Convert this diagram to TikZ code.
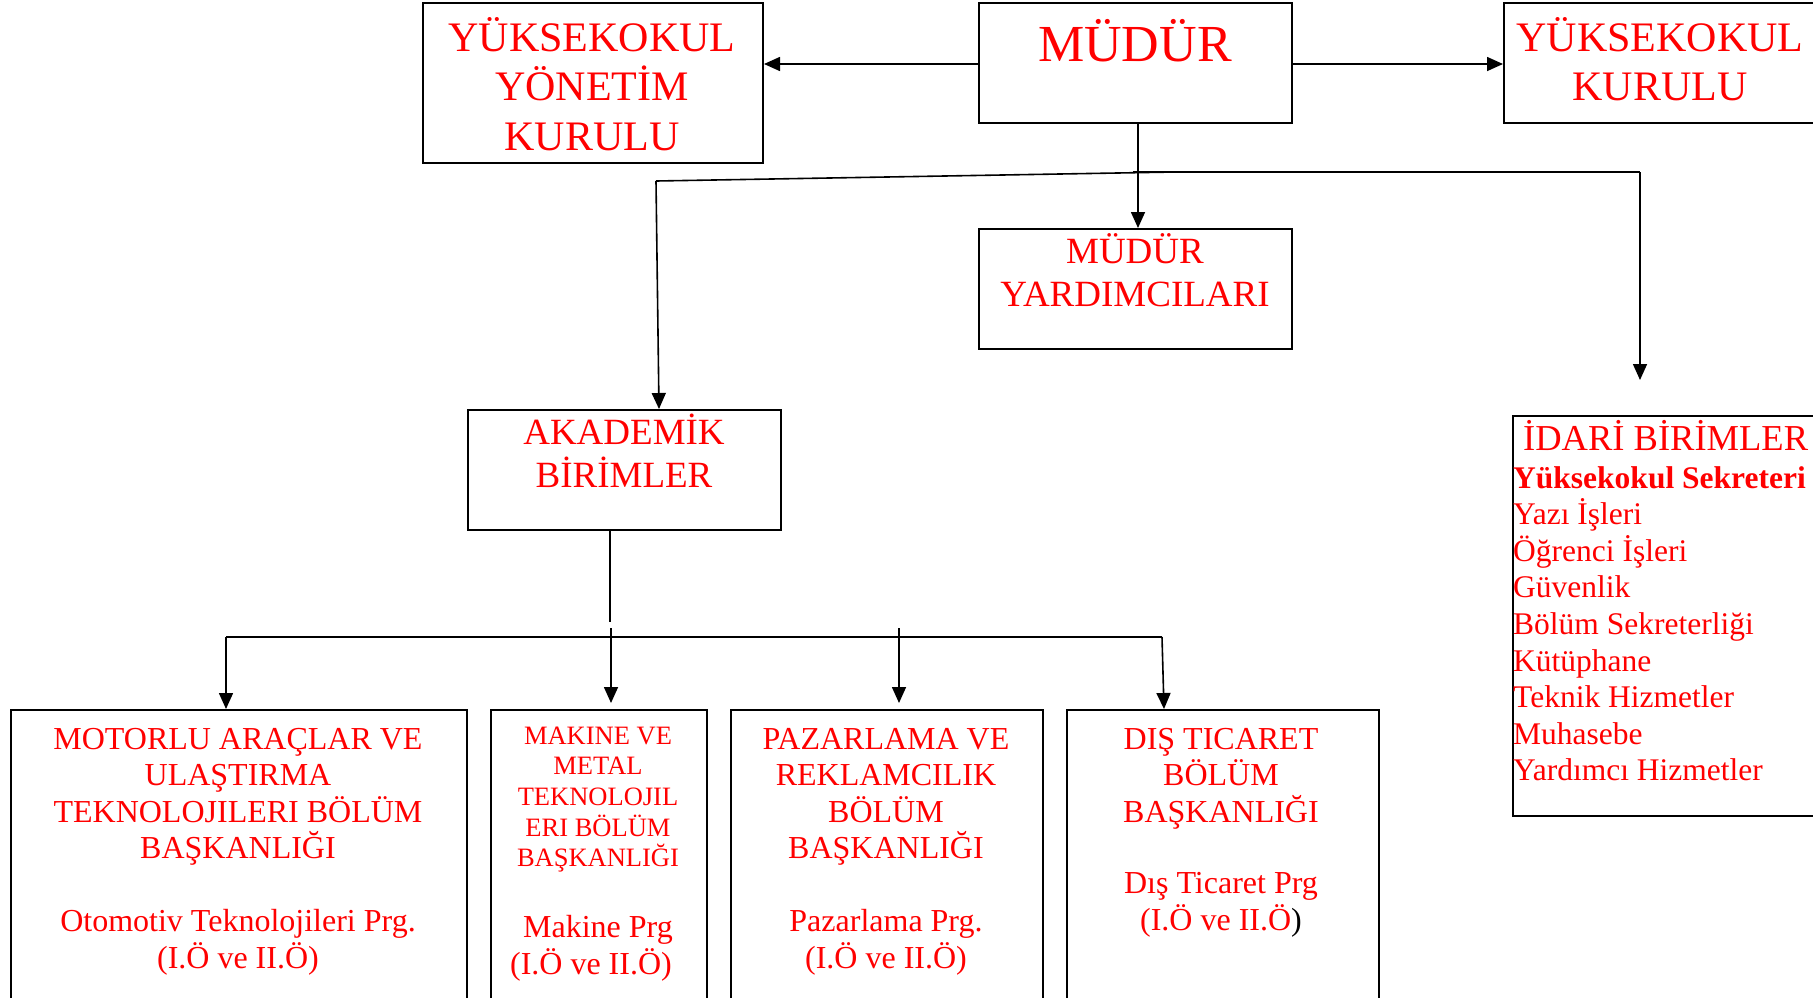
\documentclass[tikz,border=0pt]{standalone}
\usepackage{fontspec}
\setmainfont{Liberation Serif}
\usetikzlibrary{arrows.meta}
\newcommand\blk[4]{\parbox[t]{#1pt}{\fontsize{#2}{#3}\selectfont\centering #4\par}}
\begin{document}
\begin{tikzpicture}[x=1pt,y=-1pt,
  box/.style={draw, line width=2pt, inner sep=0pt, anchor=north west},
  lbl/.style={anchor=base, inner sep=0pt, text=red},
  conn/.style={line width=1.6pt},
  arr/.style={conn, -{Triangle[length=16pt,width=14pt]}}]
\useasboundingbox (0,0) rectangle (1813,997);
\clip (0,0) rectangle (1813,997);
\fill[white] (0,0) rectangle (1813,997);
% boxes
\node[box, minimum width=340pt, minimum height=160pt] (ykurul) at (422,2) {};
\node[box, minimum width=313pt, minimum height=120pt] (mudur) at (978,2) {};
\node[box, minimum width=340pt, minimum height=120pt] (kurul) at (1503,2) {};
\node[box, minimum width=313pt, minimum height=120pt] (yard) at (978,228) {};
\node[box, minimum width=313pt, minimum height=120pt] (akad) at (467,409) {};
\node[box, minimum width=330pt, minimum height=400pt] (idari) at (1512,415) {};
\node[box, minimum width=456pt, minimum height=300pt] (motorlu) at (10,709) {};
\node[box, minimum width=216pt, minimum height=300pt] (makine) at (490,709) {};
\node[box, minimum width=312pt, minimum height=300pt] (pazar) at (730,709) {};
\node[box, minimum width=312pt, minimum height=300pt] (dis) at (1066,709) {};
% texts
\node[lbl] (t-ykurul) at (592,51) {\blk{330}{42}{49.5}{YÜKSEKOKUL\\YÖNETİM\\KURULU}};
\node[lbl] (t-mudur) at (1135,61) {\blk{300}{52}{60}{MÜDÜR}};
\node[lbl] (t-kurul) at (1660,51) {\blk{330}{42}{49}{YÜKSEKOKUL\\KURULU}};
\node[lbl] (t-yard) at (1135,263) {\blk{300}{37}{43}{MÜDÜR\\YARDIMCILARI}};
\node[lbl] (t-akad) at (624,444) {\blk{300}{37}{43}{AKADEMİK\\BİRİMLER}};
\node[lbl] (t-motorlu) at (238,749) {\blk{440}{32}{36.5}{MOTORLU ARAÇLAR VE\\ULAŞTIRMA\\TEKNOLOJILERI BÖLÜM\\BAŞKANLIĞI\\[36.5pt]Otomotiv Teknolojileri Prg.\\(I.Ö ve II.Ö)}};
\node[lbl] (t-makine) at (598,744) {\parbox[t]{205pt}{\fontsize{26.5}{30.7}\selectfont\centering MAKINE VE\\METAL\\TEKNOLOJIL\\ERI BÖLÜM\\BAŞKANLIĞI\par\vspace{34pt}\fontsize{32}{37}\selectfont Makine Prg\\(I.Ö ve II.Ö)\hspace*{14pt}\par}};
\node[lbl] (t-pazar) at (886,749) {\blk{300}{32}{36.5}{PAZARLAMA VE\\REKLAMCILIK\\BÖLÜM\\BAŞKANLIĞI\\[36.5pt]Pazarlama Prg.\\(I.Ö ve II.Ö)}};
\node[lbl] (t-dis) at (1221,749) {\blk{300}{32}{36.5}{DIŞ TICARET\\BÖLÜM\\BAŞKANLIĞI\\[35pt]Dış Ticaret Prg\\(I.Ö ve II.Ö\textcolor{black}{)}}};
\node[lbl, anchor=base west, font=\fontsize{36.5}{40}\selectfont] (t-idari) at (1523,450) {İDARİ BİRİMLER};
\node[lbl, anchor=base west] (t-idari-list) at (1513,488) {\parbox[t]{300pt}{\fontsize{31.5}{36.6}\selectfont\raggedright
  \textbf{Yüksekokul Sekreteri}\\Yazı İşleri\\Öğrenci İşleri\\Güvenlik\\Bölüm Sekreterliği\\Kütüphane\\Teknik Hizmetler\\Muhasebe\\Yardımcı Hizmetler\par}};
% connector points
\coordinate (hy) at (0,64);
\coordinate (ub-l) at (656,181);
\coordinate (ub-m) at (1175,172);
\coordinate (ub-s) at (1133,172);
\coordinate (ub-r) at (1640,172);
\coordinate (idari-tip) at (1640,380);
\coordinate (akad-tip) at (659,409);
\coordinate (ak-b) at (610,622);
\coordinate (lb-l) at (226,637);
\coordinate (lb-r) at (1162,637);
\coordinate (mk-s) at (611,628);
\coordinate (mk-t) at (611,703);
\coordinate (pz-s) at (899,628);
\coordinate (pz-t) at (899,703);
\coordinate (ds-t) at (1164,709);
% connectors
\draw[arr] (mudur.west |- hy) -- (ykurul.east |- hy);
\draw[arr] (mudur.east |- hy) -- (kurul.west |- hy);
\draw[arr] (mudur.south -| 1138,0) -- (yard.north -| 1138,0);
\draw[conn] (ub-l) -- (ub-m);
\draw[conn] (ub-s) -- (ub-r);
\draw[arr] (ub-r) -- (idari-tip);
\draw[arr] (ub-l) -- (akad-tip);
\draw[conn] (akad.south -| ak-b) -- (ak-b);
\draw[conn] (lb-l) -- (lb-r);
\draw[arr] (lb-l) -- (motorlu.north -| lb-l);
\draw[arr] (mk-s) -- (mk-t);
\draw[arr] (pz-s) -- (pz-t);
\draw[arr] (lb-r) -- (ds-t);
\end{tikzpicture}
\end{document}
